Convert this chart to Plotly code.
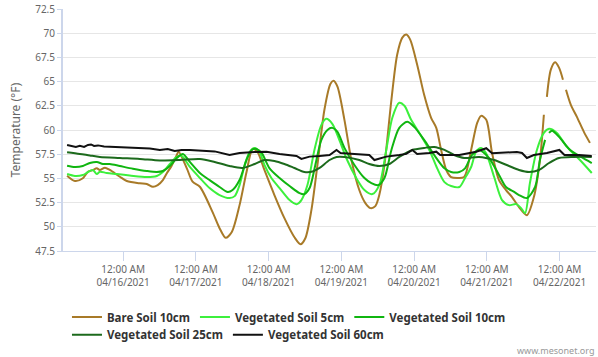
import pandas as pd
import plotly.graph_objects as go

BASE = pd.Timestamp("2021-04-16 00:00")

# hours relative to 04/16/2021 00:00, temperatures in °F
bare_h = [-18.5,-15.9,-13.3,-11.6,-10.0,-8.7,-7.7,-6.0,-4.4,-1.1,1.2,5.5,7.8,9.8,11.4,13.1,14.4,16.0,17.7,18.3,
          21.0,22.9,25.3,29.5,31.8,33.8,35.8,38.4,40.7,42.7,44.3,46.6,49.9,53.2,56.5,58.5,60.1,62.1,64.1,66.4,
          68.4,69.4,70.7,73.0,75.3,77.9,79.9,81.6,83.2,84.5,86.2,88.5,90.4,92.1,93.4,94.7,97.0,99.3,101.6,103.3,
          104.9,106.6,108.2,110.2,112.5,114.8,116.8,118.1,119.8,121.7,124.0,126.3,128.3,130.6,133.2,135.5,137.5,138.8,139.3,139.8,
          141.1,142.5,143.8,145.1,145.6,146.1,147.7,149.7,152.0,154.0]
bare_t = [55.28,54.73,55.01,55.69,55.87,56.04,55.87,56.11,55.87,55.17,54.73,54.49,54.42,54.14,54.31,54.83,55.53,56.31,57.42,57.76,
          56.04,54.66,54.14,51.52,49.86,48.87,49.44,52.24,55.66,58.04,57.73,55.87,53.28,50.89,48.92,48.20,48.82,51.72,56.39,62.09,
          64.78,65.09,64.47,61.05,56.90,53.80,52.45,51.93,52.14,53.28,56.39,63.12,67.78,69.55,69.86,69.34,66.75,63.64,61.26,60.22,
          57.94,55.87,55.14,55.04,55.14,57.94,60.74,61.46,61.05,57.63,54.83,53.80,53.07,52.03,51.20,53.07,56.90,61.57,None,63.43,
          66.23,66.99,66.44,65.19,None,64.16,62.60,61.36,59.81,58.67]

v5_h = [-18.5,-15.9,-13.3,-11.6,-10.0,-8.7,-7.7,-5.4,-2.1,2.2,7.8,11.1,13.1,15.4,17.7,19.3,22.0,25.3,28.5,31.8,
        35.1,36.8,38.4,40.1,41.7,43.4,45.0,46.6,48.9,51.6,54.9,57.2,58.8,60.8,63.1,65.4,67.0,69.0,71.3,73.9,
        76.9,79.6,82.2,84.5,86.8,88.8,91.1,92.8,95.0,97.7,101.0,103.6,106.0,108.2,110.9,112.8,114.8,116.4,118.1,119.7,
        122.4,125.0,127.3,129.6,131.3,132.6,134.2,136.5,138.8,140.5,143.1,146.4,150.7,154.6]
v5_t = [55.45,55.25,55.35,55.66,55.87,55.45,55.69,55.56,55.45,55.30,55.14,55.25,55.66,56.49,57.22,57.32,56.18,55.04,54.00,53.28,
        52.97,53.17,54.31,56.39,57.73,58.15,57.73,56.39,55.04,54.00,52.76,52.34,52.76,54.31,57.94,60.53,61.15,60.63,58.98,56.90,
        55.04,53.80,53.38,54.31,57.94,61.26,62.81,62.50,61.05,59.70,57.94,56.04,54.62,54.21,54.11,55.04,56.18,57.73,58.15,57.63,
        55.14,52.76,52.24,52.34,51.93,51.41,54.52,57.94,59.70,60.12,59.70,58.25,56.90,55.56]

v10_h = [-18.5,-15.9,-13.3,-11.0,-8.7,-6.7,-4.4,-1.1,3.2,7.8,11.1,13.1,15.4,17.7,19.7,22.0,25.3,28.5,31.8,34.5,
         36.1,38.4,40.7,42.4,44.0,45.7,48.3,51.6,54.9,58.2,59.8,61.5,63.4,65.4,67.4,69.0,70.7,73.0,76.3,79.6,
         81.9,84.2,86.2,88.5,91.1,93.7,96.0,99.3,102.6,106.0,108.2,110.9,112.8,115.1,117.4,120.7,124.0,126.3,129.0,130.6,
         133.2,135.9,137.5,139.2,139.8,140.5,141.5,143.8,147.5,151.1,154.6]
v10_t = [56.31,56.18,56.28,56.59,56.70,56.49,56.49,56.28,56.00,55.76,55.66,55.76,56.28,57.11,57.53,56.70,55.56,54.83,54.11,53.59,
         53.80,54.83,56.90,57.94,58.04,57.63,56.04,55.04,54.21,53.48,53.38,54.00,56.39,58.98,60.01,60.22,59.81,58.15,56.39,55.04,
         54.52,54.31,55.04,57.94,60.22,60.84,60.32,58.98,57.42,56.04,55.66,55.66,56.04,57.42,57.94,57.11,55.35,54.11,53.60,53.28,
         52.97,54.11,56.90,58.98,None,59.70,59.91,59.29,57.94,57.22,56.59]

v25_h = [-18.5,-14.3,-11.0,-7.7,-1.1,5.5,12.1,18.7,25.3,30.2,35.1,39.4,43.4,46.6,49.9,53.2,56.5,59.8,62.5,64.8,
         68.1,70.4,73.0,77.9,81.2,84.5,87.8,91.1,95.4,99.3,102.6,106.0,109.2,112.5,117.4,122.4,127.3,130.6,133.9,137.2,
         140.5,143.8,148.8,154.6]
v25_t = [57.70,57.53,57.37,57.22,57.11,57.01,56.85,56.90,57.01,56.70,56.28,56.08,56.49,56.90,56.80,56.49,56.08,55.66,55.71,56.08,
         56.90,57.22,57.22,56.90,56.49,56.28,56.49,57.22,57.94,58.15,58.25,57.94,57.42,57.11,57.22,56.90,56.28,55.87,55.66,55.87,
         56.59,57.11,57.22,57.22]

v60_h = [-18.5,-16.9,-15.6,-14.3,-12.9,-11.6,-10.6,-9.6,-8.3,-6.3,-2.7,2.2,8.8,12.1,14.7,17.0,19.3,22.0,26.2,30.2,
         35.1,38.4,43.4,47.3,51.6,54.9,57.2,58.8,61.5,64.8,68.1,70.4,71.7,76.3,81.2,82.9,86.8,91.1,93.4,95.4,
         97.0,101.0,103.3,104.6,110.9,116.5,119.8,121.7,125.7,129.9,131.6,133.2,135.5,139.8,143.9,145.6,150.4,154.6]
v60_t = [58.46,58.36,58.25,58.36,58.25,58.46,58.51,58.36,58.41,58.30,58.25,58.20,58.10,57.94,58.04,57.84,57.94,57.94,57.87,57.79,
         57.42,57.63,57.73,57.76,57.53,57.42,57.32,57.01,57.25,57.32,57.42,57.94,57.63,57.53,57.42,56.90,57.25,57.42,57.53,57.94,
         57.53,57.63,57.76,57.42,57.42,57.76,58.12,57.60,57.63,57.73,57.63,57.11,57.42,57.63,57.94,57.42,57.42,57.32]

tick_days = ["2021-04-16", "2021-04-17", "2021-04-18", "2021-04-19", "2021-04-20", "2021-04-21", "2021-04-22"]
y_ticks = [47.5, 50, 52.5, 55, 57.5, 60, 62.5, 65, 67.5, 70, 72.5]


def to_time(hours):
    return [BASE + pd.Timedelta(hours=h) for h in hours]


series = [
    ("Bare Soil 10cm", bare_h, bare_t, "#a87a28", "spline", "legend"),
    ("Vegetated Soil 5cm", v5_h, v5_t, "#3cf03c", "spline", "legend"),
    ("Vegetated Soil 10cm", v10_h, v10_t, "#10b510", "spline", "legend"),
    ("Vegetated Soil 25cm", v25_h, v25_t, "#1c6a1c", "spline", "legend2"),
    ("Vegetated Soil 60cm", v60_h, v60_t, "#111111", "linear", "legend2"),
]

FONT = "Noto Sans, Liberation Sans, Arial, sans-serif"
LEG_FONT = dict(family=FONT, size=11.5, color="#333333", weight="bold")

fig = go.Figure()
for name, hs, ts, color, shape, leg in series:
    fig.add_trace(go.Scatter(
        x=to_time(hs), y=ts, name=name, mode="lines", legend=leg,
        line=dict(color=color, width=2, shape=shape, smoothing=0.8),
        connectgaps=False, hoverinfo="skip",
    ))

legend_common = dict(
    orientation="h", xref="container", xanchor="left",
    yref="container", yanchor="middle",
    font=LEG_FONT, itemwidth=30, bgcolor="rgba(0,0,0,0)",
)

fig.update_layout(
    width=598, height=357,
    margin=dict(l=63, r=2, t=9, b=106, autoexpand=False),
    paper_bgcolor="white", plot_bgcolor="white",
    font=dict(family=FONT, color="#666666", size=10),
    showlegend=True,
    legend=dict(legend_common, x=0.112, y=0.112),
    legend2=dict(legend_common, x=0.112, y=0.062),
    xaxis=dict(
        type="date",
        range=[BASE + pd.Timedelta(hours=-19.85), BASE + pd.Timedelta(hours=156.0)],
        tickvals=[pd.Timestamp(d) for d in tick_days],
        ticktext=["12:00 AM<br>" + pd.Timestamp(d).strftime("%m/%d/%Y") for d in tick_days],
        ticks="outside", ticklen=9, tickcolor="#ccd6eb", tickwidth=1,
        showgrid=False, zeroline=False,
        showline=True, linecolor="#ccd6eb", linewidth=1,
        tickfont=dict(size=10, color="#666666"),
    ),
    yaxis=dict(
        range=[47.5, 72.5],
        tickvals=y_ticks,
        ticktext=[f"{v:g}" for v in y_ticks],
        ticks="outside", ticklen=4, tickcolor="#ccd6eb", tickwidth=1,
        showgrid=True, gridcolor="#e6e6e6", gridwidth=1,
        zeroline=False,
        showline=True, linecolor="#ccd6eb", linewidth=2,
        tickfont=dict(size=10, color="#666666"),
        title=dict(text="Temperature (°F)", font=dict(size=12, color="#666666"), standoff=12),
    ),
    annotations=[dict(
        text="www.mesonet.org", xref="paper", yref="paper", x=1.0, y=-0.41,
        xanchor="right", yanchor="middle", showarrow=False,
        font=dict(size=9, color="#999999", family=FONT),
    )],
)

fig.write_html(
    "out.html",
    config={"displayModeBar": False},
    post_script="document.body.style.margin='0px';document.body.style.overflow='hidden';",
)
